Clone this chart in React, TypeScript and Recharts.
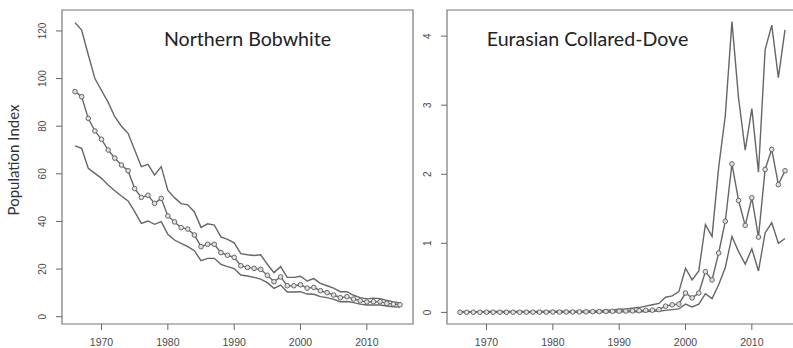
import React from "react";
import { LineChart, Line, XAxis, YAxis, ReferenceArea } from "recharts";

const years = [
  1966, 1967, 1968, 1969, 1970, 1971, 1972, 1973, 1974, 1975,
  1976, 1977, 1978, 1979, 1980, 1981, 1982, 1983, 1984, 1985,
  1986, 1987, 1988, 1989, 1990, 1991, 1992, 1993, 1994, 1995,
  1996, 1997, 1998, 1999, 2000, 2001, 2002, 2003, 2004, 2005,
  2006, 2007, 2008, 2009, 2010, 2011, 2012, 2013, 2014, 2015,
];

const bobwhiteMid = [
  94.5, 92.4, 83.3, 78, 74.5, 70, 66.6, 63.7, 61.3, 53.8,
  50.1, 51, 47.6, 49.7, 42.3, 39.8, 37.4, 36.8, 34.3, 29.4,
  30.4, 30.4, 26.9, 25.8, 24.9, 21.4, 20.7, 20.3, 19.9, 17.4,
  14.7, 16.7, 13, 13, 13.4, 12, 12.3, 10.9, 10.1, 9.1,
  8, 8.4, 7.4, 6.7, 6.2, 6.3, 6.3, 5.6, 5.3, 5.0,
];
const bobwhiteHigh = [
  123.5, 120.4, 110, 100, 95, 90, 84, 80, 77, 70,
  63, 64, 59.5, 63, 53, 50, 47.5, 47, 44, 37.5,
  39, 38.5, 33.5, 32.5, 31, 26.5, 26, 25.7, 26, 22,
  18.5, 21, 16.5, 16.5, 17, 15, 16, 14, 13, 12,
  10.5, 10.5, 9, 8, 7.5, 7.8, 7.6, 6.8, 6.2, 5.8,
];
const bobwhiteLow = [
  71.7, 70.7, 62.3, 60.2, 58.1, 55.3, 52.9, 50.7, 48.6, 44.1,
  39.2, 40.2, 38.8, 39.9, 34.6, 32.2, 30.8, 29.4, 27.7, 23.5,
  24.5, 24.5, 22, 21, 20.2, 17.5, 17.1, 16.5, 15.8, 14.3,
  11.9, 13.3, 10.4, 10.4, 10.5, 9.5, 9.4, 8.4, 8, 7.3,
  6.3, 6.4, 5.9, 5.3, 4.9, 4.9, 4.9, 4.5, 4.2, 4.0,
];

const doveMid = [
  0.002, 0.002, 0.002, 0.002, 0.002, 0.002, 0.002, 0.002, 0.002, 0.002,
  0.003, 0.003, 0.004, 0.004, 0.005, 0.005, 0.006, 0.006, 0.007, 0.008,
  0.01, 0.012, 0.014, 0.016, 0.018, 0.02, 0.022, 0.025, 0.03, 0.032,
  0.04, 0.09, 0.11, 0.12, 0.28, 0.21, 0.28, 0.59, 0.47, 0.86,
  1.32, 2.15, 1.62, 1.26, 1.66, 1.09, 2.07, 2.36, 1.85, 2.05,
];
const doveHigh = [
  0.01, 0.01, 0.01, 0.01, 0.012, 0.012, 0.012, 0.013, 0.013, 0.014,
  0.014, 0.015, 0.015, 0.016, 0.016, 0.017, 0.017, 0.018, 0.019, 0.02,
  0.02, 0.025, 0.03, 0.035, 0.045, 0.05, 0.06, 0.07, 0.09, 0.11,
  0.13, 0.22, 0.24, 0.3, 0.64, 0.47, 0.6, 1.27, 1.1, 2.1,
  2.85, 4.21, 3.1, 2.35, 2.95, 2.03, 3.8, 4.16, 3.4, 4.09,
];
const doveLow = [
  0.001, 0.001, 0.001, 0.001, 0.001, 0.001, 0.001, 0.001, 0.001, 0.001,
  0.001, 0.001, 0.001, 0.001, 0.002, 0.002, 0.002, 0.002, 0.002, 0.003,
  0.003, 0.004, 0.005, 0.006, 0.007, 0.008, 0.009, 0.01, 0.012, 0.015,
  0.02, 0.03, 0.04, 0.05, 0.12, 0.08, 0.12, 0.27, 0.2, 0.4,
  0.65, 1.1, 0.88, 0.7, 0.92, 0.6, 1.15, 1.3, 1.0, 1.07,
];

const xTicks = [1970, 1980, 1990, 2000, 2010];
const bobwhiteTicks = [0, 20, 40, 60, 80, 100, 120];
const doveTicks = [0, 1, 2, 3, 4];

const INK = "#666";
const TXT = "#4a4a4a";
const X_DOMAIN: [number, number] = [1964.04, 2016.96];

const bobwhiteRows = years.map((year, i) => ({
  year, mid: bobwhiteMid[i], high: bobwhiteHigh[i], low: bobwhiteLow[i],
}));
const doveRows = years.map((year, i) => ({
  year, mid: doveMid[i], high: doveHigh[i], low: doveLow[i],
}));

function XTick({ x, y, payload }: any) {
  return (
    <text x={x} y={y + 14} textAnchor="middle" fill={TXT} fontSize={10.5}
      fontFamily="Liberation Sans, Arial, sans-serif">
      {payload.value}
    </text>
  );
}

function YTick({ x, y, payload }: any) {
  return (
    <text transform={`translate(${x - 8},${y}) rotate(-90)`} textAnchor="middle"
      fill={TXT} fontSize={10} fontFamily="Liberation Sans, Arial, sans-serif">
      {payload.value}
    </text>
  );
}

function Panel({ rows, yDomain, yTicks, yWidth, width, right }: {
  rows: { year: number; mid: number; high: number; low: number }[];
  yDomain: [number, number];
  yTicks: number[];
  yWidth: number;
  width: number;
  right: number;
}) {
  return (
    <LineChart width={width} height={348} data={rows}
      margin={{ top: 10, right, bottom: 0, left: 0 }}>
      <XAxis dataKey="year" type="number" domain={X_DOMAIN} allowDataOverflow
        ticks={xTicks} interval={0} height={24} axisLine={false}
        tickSize={6} tickLine={{ stroke: INK }} tick={<XTick />} />
      <YAxis type="number" domain={yDomain} allowDataOverflow ticks={yTicks}
        interval={0} width={yWidth} axisLine={false} tickSize={6}
        tickLine={{ stroke: INK }} tick={<YTick />} />
      <ReferenceArea x1={X_DOMAIN[0]} x2={X_DOMAIN[1]} y1={yDomain[0]} y2={yDomain[1]}
        fill="none" stroke="#777" strokeWidth={1.2} />
      <Line dataKey="high" stroke={INK} strokeWidth={1.4} dot={false}
        isAnimationActive={false} />
      <Line dataKey="low" stroke={INK} strokeWidth={1.4} dot={false}
        isAnimationActive={false} />
      <Line dataKey="mid" stroke={INK} strokeWidth={1.4}
        dot={{ r: 2.3, stroke: INK, strokeWidth: 1, fill: "#e0e0e0" }}
        isAnimationActive={false} />
    </LineChart>
  );
}

export default function App() {
  return (
    <div style={{ position: "absolute", left: 0, top: 0, width: 793, height: 348,
      overflow: "hidden", background: "#fff" }}>
      <div style={{ position: "absolute", left: 0, top: 0 }}>
        <Panel rows={bobwhiteRows} yDomain={[-3.07, 128.8]} yTicks={bobwhiteTicks}
          yWidth={62} width={420} right={7} />
      </div>
      <div style={{ position: "absolute", left: 400, top: 0 }}>
        <Panel rows={doveRows} yDomain={[-0.168, 4.378]} yTicks={doveTicks}
          yWidth={47} width={400} right={2} />
      </div>
      <svg width={793} height={348} style={{ position: "absolute", left: 0, top: 0,
        pointerEvents: "none" }}>
        <g fontFamily="Lato, sans-serif" fill="#222">
          <text x={247.5} y={46} textAnchor="middle" fontSize={19.6}>Northern Bobwhite</text>
          <text x={587.5} y={46} textAnchor="middle" fontSize={19.6}>Eurasian Collared-Dove</text>
          <text transform="translate(19,160) rotate(-90)" textAnchor="middle"
            fontSize={15} fill="#333">Population Index</text>
        </g>
      </svg>
    </div>
  );
}
